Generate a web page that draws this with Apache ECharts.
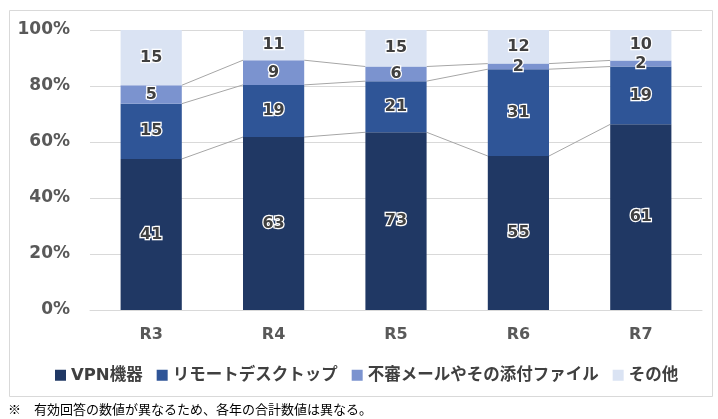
<!DOCTYPE html>
<html>
<head>
<meta charset="utf-8">
<script src="https://cdn.jsdelivr.net/npm/echarts@6/dist/echarts.min.js"></script>
<style>
  html, body { margin: 0; padding: 0; background: #fff; }
  #main { width: 718px; height: 419px; }
</style>
</head>
<body>
<div id="main"></div>
<script>
// 年度
const years = ['R3', 'R4', 'R5', 'R6', 'R7'];
// 件数
const vpn = [41, 63, 73, 55, 61];
const remote = [15, 19, 21, 31, 19];
const mail = [5, 9, 6, 2, 2];
const other = [15, 11, 15, 12, 10];
const seriesNames = ['VPN機器', 'リモートデスクトップ', '不審メールやその添付ファイル', 'その他'];
const colors = ['#203864', '#2f5597', '#7b93cf', '#dae3f3'];

const counts = [vpn, remote, mail, other];
const totals = years.map((_, i) => counts.reduce((s, arr) => s + arr[i], 0));
const pct = counts.map(arr => arr.map((v, i) => v / totals[i] * 100));

// 区分線用: 各系列の積み上げ上端
const cum = [];
let run = years.map(() => 0);
pct.forEach(arr => {
  run = run.map((v, i) => v + arr[i]);
  cum.push(run.slice());
});

const font = '"DejaVu Sans", "Noto Sans CJK JP", sans-serif';

const barSeries = seriesNames.map((name, s) => ({
  name: name,
  type: 'bar',
  stack: 'total',
  barWidth: '50%',
  itemStyle: { color: colors[s] },
  label: {
    show: true,
    position: 'inside',
    formatter: p => counts[s][p.dataIndex],
    color: '#404040',
    fontFamily: font,
    fontWeight: 'bold',
    fontSize: 16,
    textBorderColor: '#fff',
    textBorderWidth: 2.5
  },
  z: 3,
  data: pct[s]
}));

// 系列線 (棒の右上から次の棒の左上へ)
const lineData = [];
for (let s = 0; s < 3; s++) {
  for (let i = 0; i < years.length - 1; i++) {
    lineData.push([i, cum[s][i], cum[s][i + 1]]);
  }
}

const seriesLines = {
  type: 'custom',
  silent: true,
  z: 2,
  renderItem: function (params, api) {
    const i = api.value(0);
    const a = api.coord([i, api.value(1)]);
    const b = api.coord([i + 1, api.value(2)]);
    const half = api.size([1, 0])[0] * 0.25;
    return {
      type: 'line',
      shape: { x1: a[0] + half, y1: a[1], x2: b[0] - half, y2: b[1] },
      style: { stroke: '#a6a6a6', lineWidth: 1 }
    };
  },
  encode: { x: 0, y: 1 },
  data: lineData
};

const option = {
  animation: false,
  color: colors,
  grid: { left: 90, right: 16, top: 30, bottom: 109 },
  legend: {
    data: seriesNames,
    top: 362,
    left: 50,
    icon: 'rect',
    itemWidth: 11,
    itemHeight: 11,
    itemGap: 14,
    textStyle: { color: '#404040', fontFamily: font, fontWeight: 'bold', fontSize: 16.5 }
  },
  xAxis: {
    type: 'category',
    data: years,
    axisLine: { lineStyle: { color: '#d9d9d9' } },
    axisTick: { show: false },
    axisLabel: { color: '#595959', fontFamily: font, fontWeight: 'bold', fontSize: 16, margin: 17 }
  },
  yAxis: {
    type: 'value',
    min: 0,
    max: 100,
    interval: 20,
    axisLabel: { formatter: '{value}%', color: '#595959', fontFamily: font, fontWeight: 'bold', fontSize: 17, margin: 20 },
    splitLine: { lineStyle: { color: '#d9d9d9' } }
  },
  graphic: [
    {
      type: 'rect',
      shape: { x: 9.5, y: 10.5, width: 703, height: 386 },
      style: { fill: 'none', stroke: '#d9d9d9', lineWidth: 1 },
      silent: true
    },
    {
      type: 'text',
      left: 8,
      top: 403,
      style: {
        text: '※　有効回答の数値が異なるため、各年の合計数値は異なる。',
        fill: '#000',
        font: '13px "Noto Sans CJK JP", sans-serif'
      }
    }
  ],
  series: barSeries.concat([seriesLines])
};

const myChart = echarts.init(document.getElementById('main'));
myChart.setOption(option);
</script>
</body>
</html>
